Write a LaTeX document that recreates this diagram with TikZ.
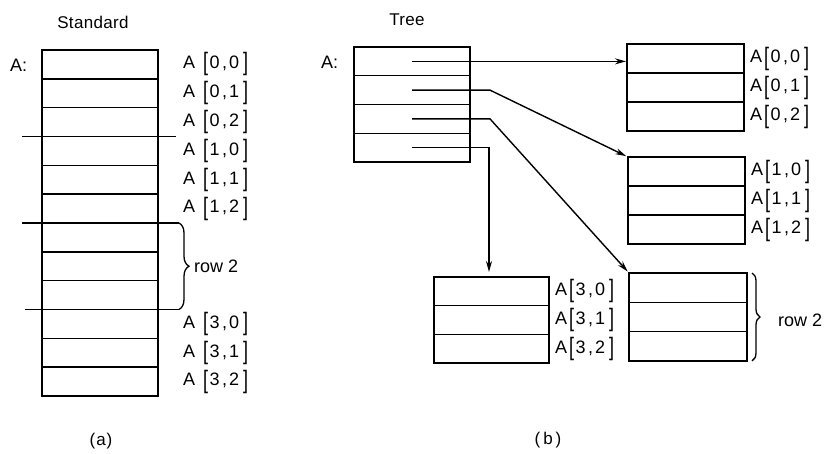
\documentclass[tikz,border=0pt]{standalone}
\usepackage{fontspec}
\setmainfont{Liberation Sans}
\newfontfamily\ttlfont[LetterSpace=2]{Liberation Sans}
\usetikzlibrary{arrows.meta,calc,decorations.pathreplacing}
\newcommand\sbr[1]{\raisebox{-0.12em}{\scalebox{1}[1.4]{#1}}}
\newcommand\arrs[2]{A\kern8pt\sbr{[}\kern1.5pt#1\kern2.5pt,\kern2pt#2\kern4pt\sbr{]}}
\newcommand\arrt[2]{A\kern2pt\sbr{[}\kern1.5pt#1\kern2.5pt,\kern2pt#2\kern4pt\sbr{]}}
\begin{document}
\begin{tikzpicture}[x=1pt,y=-1pt,
  cell/.style={draw, line width=1.4pt, minimum width=116pt, minimum height=28.8pt, inner sep=0pt, outer sep=0pt},
  lbl/.style={anchor=west, inner sep=0pt, font=\fontsize{18}{20}\selectfont},
  ttl/.style={inner sep=0pt, font=\fontsize{17}{19}\ttlfont},
  ptr/.style={line width=1.4pt, -{Stealth[length=11pt,width=6pt]}},
  rule/.style={line width=1.4pt},
  brc/.style={line width=1.3pt, decorate, decoration={brace, amplitude=#1}},
  brc/.default=10pt]
\useasboundingbox (0,0) rectangle (824,453);

% ---------- (a) Standard ----------
\node[ttl] (tstd) at (93,22) {Standard};
\foreach \i in {0,...,11}
  \node[cell] (s\i) at (100,{50+28.83*(\i+0.5)}) {};
\node[lbl] (as) at (10,65) {A:};
\foreach \i/\r/\c in {0/0/0,1/0/1,2/0/2,3/1/0,4/1/1,5/1/2,9/3/0,10/3/1,11/3/2}
  \node[lbl] (ls\i) at ($(s\i.center)+(83,0)$) {\arrs{\r}{\c}};
\coordinate (r1a) at ($(s2.south west)+(-20,0)$);
\coordinate (r1b) at ($(s2.south east)+(18,0)$);
\coordinate (r2a) at ($(s5.south west)+(-20,0)$);
\coordinate (r2b) at ($(s5.south east)+(21,0)$);
\coordinate (r3a) at ($(s8.south west)+(-17,0)$);
\coordinate (r3b) at ($(s8.south east)+(21,0)$);
\draw[rule] (r1a) -- (r1b);
\draw[rule] (r2a) -- (r2b);
\draw[rule] (r3a) -- (r3b);
\draw[brc] (r2b) -- (r3b);
\node[lbl] (rowa) at ($(r2b)!0.5!(r3b)+(15,0)$) {row 2};
\node[ttl] (capa) at (101,441) {(\kern1pt a\kern1pt)};

% ---------- (b) Tree ----------
\node[ttl] (ttree) at (407,20) {Tree};
\node[lbl] (at) at (321,62) {A:};
\foreach \i in {0,...,3}
  \node[cell] (t\i) at (412,{47+28.75*(\i+0.5)}) {};
\foreach \i in {0,1,2}{
  \node[cell, minimum width=117pt, minimum height=29pt] (b0\i) at (685.5,{44+29*(\i+0.5)}) {};
  \node[cell, minimum width=117pt, minimum height=29pt] (b1\i) at (686.5,{157+29*(\i+0.5)}) {};
  \node[cell, minimum width=118pt, minimum height=29.3pt] (b2\i) at (688,{273+29.3*(\i+0.5)}) {};
  \node[cell, minimum width=115pt, minimum height=28.7pt] (b3\i) at (491.5,{277+28.7*(\i+0.5)}) {};
  \node[lbl] (lb0\i) at ($(b0\i.east)+(6,0)$) {\arrt{0}{\i}};
  \node[lbl] (lb1\i) at ($(b1\i.east)+(6,0)$) {\arrt{1}{\i}};
  \node[lbl] (lb3\i) at ($(b3\i.east)+(6,0)$) {\arrt{3}{\i}};
}
% pointers
\coordinate (k1) at ($(t1.center)+(78,0)$);
\coordinate (k2) at ($(t2.center)+(78,0)$);
\coordinate (k3) at ($(t3.center)+(77,0)$);
\draw[ptr, shorten >=1pt] (t0.center) -- (t0.center -| b00.west);
\draw[ptr, shorten >=2pt] (t1.center) -- (k1) -- (b10.north west);
\draw[ptr, shorten >=2pt] (t2.center) -- (k2) -- (b20.north west);
\draw[ptr, shorten >=5pt] (t3.center) -- (k3) -- (k3 |- b30.north);
% brace for row 2
\coordinate (bt) at ($(b20.north east)+(5,0)$);
\coordinate (bb) at ($(b22.south east)+(5,0)$);
\draw[brc=8pt] (bt) -- (bb);
\node[lbl] (rowb) at ($(bt)!0.5!(bb)+(26,3)$) {row 2};
\node[ttl] (capb) at (548,440) {(\kern3pt b\kern3pt)};
\end{tikzpicture}
\end{document}
